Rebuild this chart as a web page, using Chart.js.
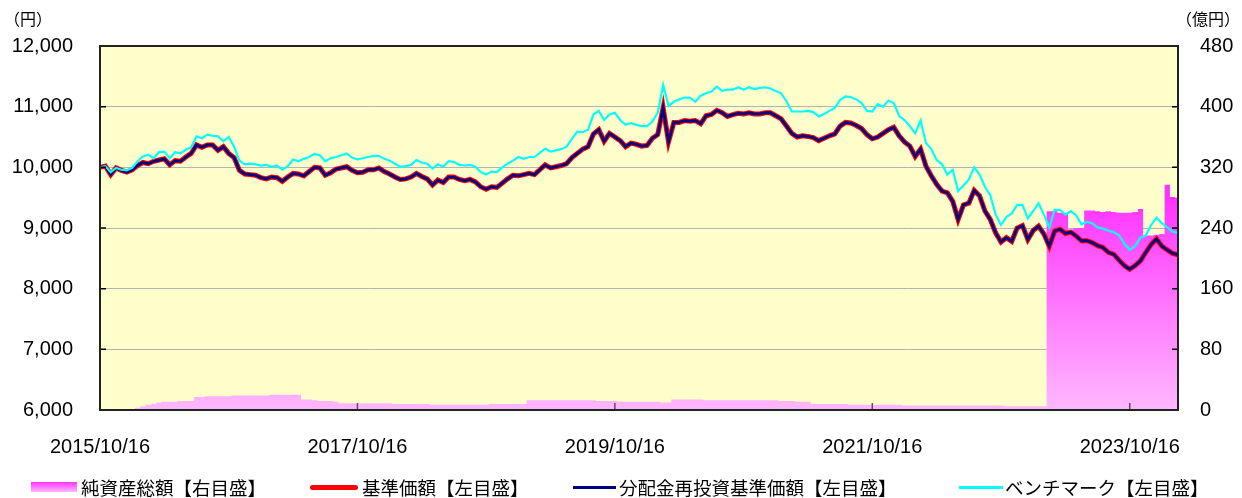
<!DOCTYPE html>
<html>
<head>
<meta charset="utf-8">
<script src="https://cdn.jsdelivr.net/npm/chart.js@4.4.1/dist/chart.umd.min.js"></script>
<style>
  body { margin: 0; background: #fff; }
  #wrap { position: relative; width: 1242px; height: 498px; }
  .lg { position: absolute; top: 474px; height: 26px; font: 18.5px "Noto Sans CJK JP", sans-serif; color: #000; white-space: nowrap; line-height: 26px; }
  .sw { position: absolute; }
</style>
</head>
<body>
<div id="wrap">
  <canvas id="chart" width="1242" height="498"></canvas>
  <div class="sw" style="left:31px;top:482px;width:46px;height:10px;background:linear-gradient(#ff33ff,#ffb8ff);"></div>
  <div class="lg" style="left:81px;">純資産総額【右目盛】</div>
  <div class="sw" style="left:310px;top:485px;width:48px;height:5px;border-radius:3px;background:#ff0000;"></div>
  <div class="lg" style="left:362px;">基準価額【左目盛】</div>
  <div class="sw" style="left:573px;top:486px;width:43px;height:3px;background:#000080;"></div>
  <div class="lg" style="left:619px;">分配金再投資基準価額【左目盛】</div>
  <div class="sw" style="left:959px;top:486px;width:44px;height:3px;background:#00ffff;"></div>
  <div class="lg" style="left:1005px;">ベンチマーク【左目盛】</div>
</div>
<script>
// dates: 16th and 1st of every month, 2015/10/16 .. 2024/03/01
const dates = [];
dates.push("2015/10/16");
for (let y = 2015, m = 11; y < 2024 || m <= 3; m++) {
  if (m > 12) { m = 1; y++; }
  const mm = String(m).padStart(2, "0");
  dates.push(y + "/" + mm + "/01");
  if (y === 2024 && m === 3) break;
  dates.push(y + "/" + mm + "/16");
}
const xTickLabels = ["2015/10/16", "2017/10/16", "2019/10/16", "2021/10/16", "2023/10/16"];

// 基準価額 (円)
const basePrice = [
  10000, 10020, 9880, 9990, 9950, 9920, 9960, 10030, 10080, 10060, 10100, 10120, 10140, 10040, 10110, 10100, 10170, 10230, 10370, 10330,
  10370, 10370, 10280, 10340, 10230, 10160, 9950, 9890, 9880, 9870, 9830, 9810, 9840, 9830, 9770, 9840, 9900, 9890, 9860, 9930,
  10000, 9990, 9870, 9910, 9970, 9990, 10010, 9950, 9910, 9920, 9960, 9960, 9990, 9930, 9890, 9840, 9800, 9810, 9840, 9900,
  9850, 9810, 9710, 9790, 9750, 9840, 9840, 9800, 9780, 9800, 9760, 9680, 9640, 9680, 9670, 9740, 9810, 9870, 9860, 9880,
  9900, 9880, 9960, 10040, 9990, 10010, 10030, 10060, 10160, 10230, 10300, 10340, 10550, 10620, 10430, 10560, 10500, 10440, 10340, 10400,
  10380, 10350, 10360, 10480, 10540, 10980, 10420, 10740, 10740, 10770, 10760, 10770, 10720, 10850, 10870, 10940, 10900, 10840, 10870, 10890,
  10880, 10900, 10880, 10880, 10900, 10900, 10850, 10800, 10680, 10560, 10500, 10520, 10510, 10490, 10440, 10480, 10520, 10550, 10680, 10740,
  10730, 10690, 10640, 10540, 10470, 10500, 10560, 10620, 10660, 10520, 10420, 10350, 10180, 10300, 10020, 9860, 9720, 9610, 9580, 9440,
  9140, 9380, 9410, 9620, 9530, 9280, 9140, 8920, 8770, 8840, 8780, 9000, 9040, 8810, 8960, 9030, 8900, 8700, 8950, 8980,
  8910, 8930, 8870, 8790, 8790, 8760, 8710, 8680, 8600, 8570, 8470, 8380, 8320, 8380, 8460, 8600, 8730, 8820, 8700, 8640,
  8580, 8560
];
// 分配金再投資基準価額 (円) - no distributions, the line lies on top of 基準価額
const reinvestedPrice = basePrice;

// ベンチマーク (円)
const benchmark = [
  10000, 10020, 9920, 9990, 9960, 9950, 9990, 10100, 10180, 10210, 10150, 10250, 10260, 10150, 10250, 10230, 10290, 10330, 10510, 10480,
  10540, 10520, 10510, 10430, 10500, 10340, 10110, 10050, 10060, 10050, 10030, 10040, 10010, 10030, 9960, 10020, 10130, 10100, 10140, 10170,
  10220, 10200, 10100, 10150, 10170, 10200, 10230, 10160, 10130, 10150, 10170, 10190, 10190, 10140, 10110, 10060, 10010, 10020, 10040, 10120,
  10080, 10060, 9980, 10050, 10010, 10100, 10090, 10040, 10030, 10040, 10010, 9920, 9880, 9930, 9920, 10000, 10060, 10110, 10170, 10140,
  10170, 10170, 10240, 10310, 10260, 10280, 10300, 10340, 10470, 10590, 10580, 10620, 10870, 10930, 10780, 10870, 10900, 10780, 10700, 10730,
  10700, 10680, 10680, 10760, 10900, 11360, 11010, 11080, 11120, 11150, 11150, 11080, 11180, 11220, 11250, 11330, 11260, 11280, 11280, 11320,
  11280, 11320, 11290, 11310, 11320, 11300, 11260, 11220, 11090, 10920, 10920, 10920, 10930, 10910, 10840, 10880, 10930, 10980, 11110, 11170,
  11160, 11120, 11060, 10930, 10920, 11040, 11000, 11100, 11060, 10850, 10780, 10680, 10560, 10770, 10400, 10300, 10120, 10050, 9880, 9960,
  9610, 9700, 9800, 10000, 9880, 9680, 9540, 9220, 9050, 9180, 9240, 9380, 9380, 9160, 9280, 9410, 9220, 9010, 9300, 9300,
  9220, 9280, 9210, 9060, 9100, 9080, 9010, 8990, 8960, 8930, 8880, 8740, 8640, 8700, 8840, 8880, 9050, 9170, 9080, 9010,
  8940, 8920
];

// 純資産総額 (億円)
const netAssets = [
  0, 0, 0, 0, 0, 0, 1, 3, 5, 7, 8, 10, 11, 11, 11, 12, 12, 12, 17, 17,
  18, 18, 18, 18, 18, 19, 19, 19, 19, 19, 19, 19, 20, 20, 20, 20, 20, 20, 14, 14,
  13, 12, 12, 12, 11, 9, 9, 9, 9, 9, 9, 9, 9, 9, 9, 8, 8, 8, 8, 8,
  8, 8, 7, 7, 7, 7, 7, 7, 7, 7, 7, 7, 7, 8, 8, 8, 8, 8, 8, 8,
  13, 13, 13, 13, 13, 13, 13, 13, 13, 13, 13, 13, 13, 12, 12, 12, 12, 11, 11, 11,
  11, 11, 11, 11, 11, 10, 10, 14, 14, 14, 14, 14, 14, 13, 13, 13, 13, 13, 13, 13,
  13, 13, 13, 13, 13, 13, 13, 12, 12, 12, 11, 11, 11, 8, 8, 8, 8, 8, 8, 8,
  7, 7, 7, 7, 7, 7, 7, 7, 7, 7, 6, 6, 6, 6, 6, 6, 6, 6, 6, 6,
  6, 6, 6, 6, 6, 6, 6, 6, 6, 5, 5, 5, 5, 5, 5, 5, 5, 262, 262, 260,
  259, 238, 240, 240, 263, 263, 262, 261, 262, 261, 260, 260, 260, 261, 265, 230, 230, 231, 232, 297,
  281, 280
];

const tickFont = { family: "'Liberation Sans', Arial, sans-serif", size: 20 };

const framePlugin = {
  id: "frame",
  beforeDraw(chart) {
    const { ctx, chartArea: a } = chart;
    ctx.save();
    ctx.fillStyle = "#ffffcc";
    ctx.fillRect(a.left, a.top, a.right - a.left, a.bottom - a.top);
    ctx.restore();
  },
  afterDatasetsDraw(chart) {
    const { ctx, chartArea: a, scales } = chart;
    ctx.save();
    // tick marks
    ctx.strokeStyle = "#000";
    ctx.lineWidth = 1.5;
    ctx.beginPath();
    scales.y.ticks.forEach(t => {
      const py = scales.y.getPixelForValue(t.value);
      ctx.moveTo(a.left, py); ctx.lineTo(a.left + 6, py);
    });
    scales.y2.ticks.forEach(t => {
      const py = scales.y2.getPixelForValue(t.value);
      ctx.moveTo(a.right - 6, py); ctx.lineTo(a.right, py);
    });
    ctx.stroke();
    ctx.strokeStyle = "#555";
    ctx.beginPath();
    scales.x.ticks.forEach(t => {
      const px = scales.x.getPixelForValue(t.value);
      ctx.moveTo(px, a.bottom); ctx.lineTo(px, a.bottom - 7);
    });
    ctx.stroke();
    // plot border
    ctx.strokeStyle = "#222";
    ctx.lineWidth = 2;
    ctx.strokeRect(a.left, a.top, a.right - a.left, a.bottom - a.top);
    // units
    ctx.fillStyle = "#000";
    ctx.font = "16px 'Noto Sans CJK JP'";
    ctx.textBaseline = "middle";
    ctx.textAlign = "left";
    ctx.fillText("（円）", 4, 19);
    ctx.fillText("（億円）", 1176, 19);
    ctx.restore();
  }
};

const ctx = document.getElementById("chart").getContext("2d");
const chart = new Chart(ctx, {
  type: "line",
  data: {
    labels: dates,
    datasets: [
      {
        label: "ベンチマーク【左目盛】",
        data: benchmark,
        borderColor: "#00ffff",
        borderWidth: 2.2,
        yAxisID: "y",
        order: 1,
      },
      {
        label: "分配金再投資基準価額【左目盛】",
        data: reinvestedPrice,
        borderColor: "#000080",
        borderWidth: 2.8,
        yAxisID: "y",
        order: 2,
      },
      {
        label: "基準価額【左目盛】",
        data: basePrice,
        borderColor: "#ff0000",
        borderWidth: 5,
        yAxisID: "y",
        order: 3,
      },
      {
        label: "純資産総額【右目盛】",
        data: netAssets,
        yAxisID: "y2",
        borderWidth: 0,
        borderColor: "rgba(0,0,0,0)",
        stepped: "middle",
        fill: "origin",
        backgroundColor: (c) => {
          const { chart } = c;
          const area = chart.chartArea;
          if (!area) return "#ff66ff";
          const top = chart.scales.y2.getPixelForValue(280);
          const g = chart.ctx.createLinearGradient(0, top, 0, area.bottom);
          g.addColorStop(0, "#ff33ff");
          g.addColorStop(1, "#ffb8ff");
          return g;
        },
        order: 4,
      },
    ],
  },
  options: {
    responsive: false,
    animation: false,
    devicePixelRatio: 1,
    layout: { padding: { top: 46, left: 0, right: 0, bottom: 0 } },
    elements: { point: { radius: 0 }, line: { tension: 0 } },
    plugins: { legend: { display: false }, tooltip: { enabled: false } },
    scales: {
      x: {
        type: "category",
        afterBuildTicks: s => {
          s.ticks = xTickLabels.map(l => ({ value: dates.indexOf(l) }));
        },
        afterFit: s => { s.height = 88; },
        grid: { display: false },
        border: { display: false },
        ticks: { autoSkip: false, maxRotation: 0, padding: 17, color: "#000", font: tickFont },
      },
      y: {
        position: "left",
        min: 6000,
        max: 12000,
        afterFit: s => { s.width = 100; },
        grid: { color: "#b4b4b4", lineWidth: 1, drawTicks: false },
        border: { display: false },
        ticks: {
          stepSize: 1000,
          padding: 27,
          color: "#000",
          font: tickFont,
          callback: v => v.toLocaleString("en-US"),
        },
      },
      y2: {
        position: "right",
        min: 0,
        max: 480,
        afterFit: s => { s.width = 64; },
        grid: { drawOnChartArea: false, drawTicks: false },
        border: { display: false },
        ticks: { stepSize: 80, padding: 22, color: "#000", font: tickFont },
      },
    },
  },
  plugins: [framePlugin],
});
</script>
</body>
</html>
